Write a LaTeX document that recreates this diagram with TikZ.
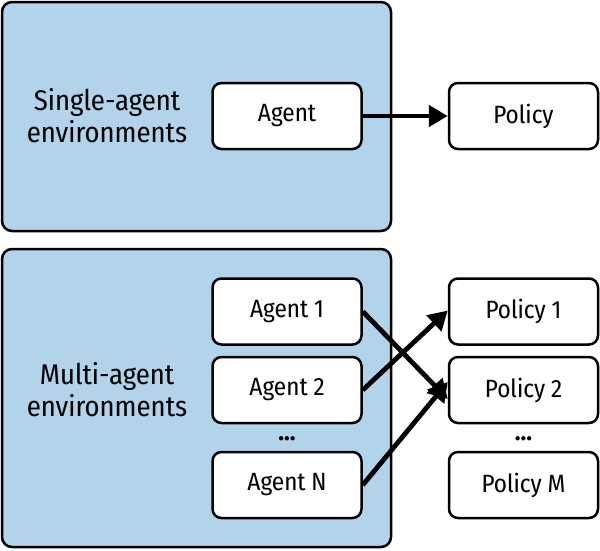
\documentclass[tikz,border=0pt]{standalone}
\usepackage{fontspec}
\setmainfont{Fira Sans Condensed}
\newfontfamily\dotsfont{Fira Sans}[UprightFont={* Bold}]
\usetikzlibrary{arrows.meta}
\definecolor{envblue}{RGB}{178,212,234}
\tikzset{
  envbox/.style={draw=black, line width=2.5pt, fill=envblue, rounded corners=10pt, inner sep=0pt},
  itembox/.style={draw=black, line width=2.5pt, fill=white, rounded corners=9pt, minimum width=149pt, minimum height=66pt, inner sep=0pt, font=\fontsize{25}{29}\selectfont},
  envlabel/.style={font=\fontsize{28.5}{32}\selectfont, align=center},
  dots/.style={font=\fontsize{24}{24}\dotsfont},
  link/.style={line width=4.8pt, -{Triangle[length=19pt,width=21pt]}}
}
\begin{document}
\begin{tikzpicture}[x=1pt,y=-1pt]
\useasboundingbox (0,0) rectangle (600,550);
\node[envbox, minimum width=389pt, minimum height=229pt] (env1) at (196.5,116.5) {};
\node[envbox, minimum width=389pt, minimum height=298pt] (env2) at (196.5,398) {};
\node[envlabel] (lab1) at (107,116) {Single-agent\\environments};
\node[envlabel] (lab2) at (107,390) {Multi-agent\\environments};
\node[itembox] (agent) at (287,116) {Agent};
\node[itembox] (policy) at (523.5,116) {Policy};
\node[itembox] (a1) at (287,311.5) {Agent 1};
\node[itembox] (a2) at (287,390) {Agent 2};
\node[itembox] (an) at (287,485) {Agent N};
\node[itembox] (p1) at (523.5,311.5) {Policy 1};
\node[itembox] (p2) at (523.5,390) {Policy 2};
\node[itembox] (pm) at (523.5,485) {Policy M};
\node[dots] (d1) at (287,439) {...};
\node[dots] (d2) at (523.5,439) {...};
\draw[link] (agent.east) -- (policy.west);
\draw[link] (a1.east) -- ([yshift=-9pt]p2.west);
\draw[link] (a2.east) -- ([yshift=1pt]p1.west);
\draw[link] (an.east) -- ([yshift=8pt]p2.west);
\end{tikzpicture}
\end{document}
